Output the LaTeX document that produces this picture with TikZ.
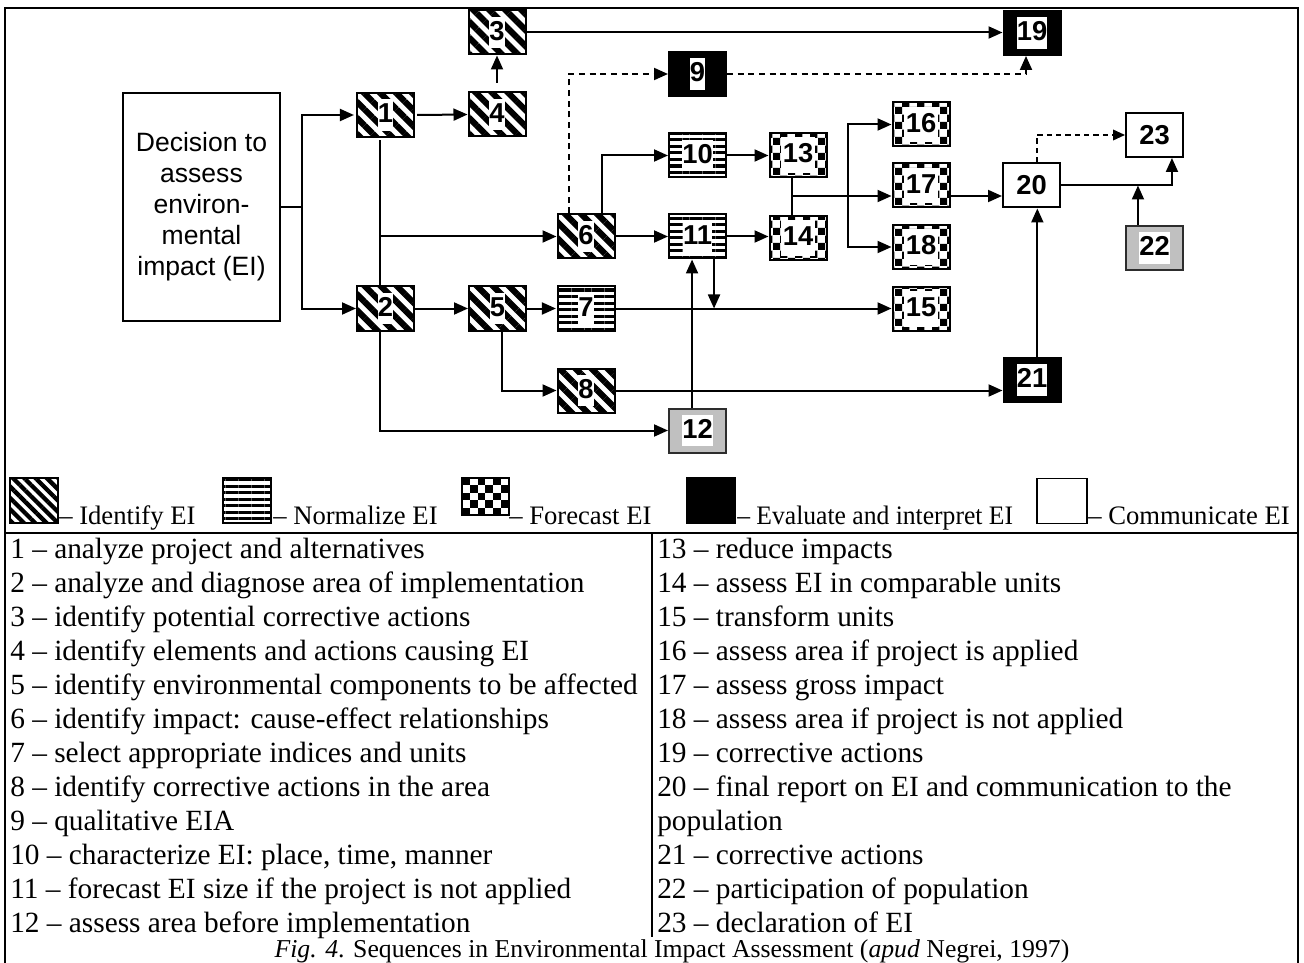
\documentclass[tikz,border=0pt]{standalone}
\usepackage{fontspec}
\setmainfont{Liberation Serif}
\setsansfont{Liberation Sans}
\usetikzlibrary{arrows.meta,patterns,patterns.meta}
\definecolor{boxgrey}{RGB}{192,192,192}
\definecolor{boxedge}{RGB}{45,45,45}
\newcommand\numlab[1]{{\setlength\fboxsep{0pt}\colorbox{white}{\rule[-6pt]{0pt}{23.5pt}#1}}}
\newcommand\numlabf[1]{{\setlength\fboxsep{1.5pt}\colorbox{white}{\rule[-6pt]{0pt}{23.5pt}#1}}}
\begin{document}
\begin{tikzpicture}[x=0.75pt,y=-0.75pt,
  box/.style={draw=black, line width=1.5pt, minimum width=42.75pt, minimum height=33pt, inner sep=0pt,
    font=\sffamily\bfseries\fontsize{20.5}{24}\selectfont},
  idbox/.style={box, preaction={fill=white}, pattern={Lines[angle=-45,distance=8.5pt,line width=4.6pt]}},
  normbox/.style={box, preaction={fill=white}, pattern={Lines[angle=0,distance=4.9pt,line width=2.4pt]}},
  forebox/.style={box, preaction={fill=white}, pattern=checkerboard},
  evalbox/.style={box, fill=black},
  combox/.style={box, fill=white},
  greybox/.style={box, fill=boxgrey, draw=boxedge},
  ln/.style={line width=1.5pt},
  arr/.style={line width=1.5pt, -{Triangle[length=10.5pt,width=9pt]}},
  dsh/.style={arr, dash pattern=on 4.5pt off 3.5pt},
  dsh2/.style={line width=1.2pt, dash pattern=on 4pt off 3pt, -{Triangle[length=9pt,width=8pt]}},
  tab/.style={anchor=base west, inner sep=0pt, font=\fontsize{22}{26}\selectfont},
  leg/.style={anchor=base west, inner sep=0pt, font=\fontsize{20}{24}\selectfont},
  swatch/.style={line width=1pt, minimum width=36pt, minimum height=33.75pt, inner sep=0pt}
]
\useasboundingbox (0,0) rectangle (1304,963);
\fill[white] (0,0) rectangle (1304,963);

% frame
\draw[line width=1.5pt] (5,963) -- (5,8) -- (1298,8) -- (1298,963);
\draw[line width=1.5pt] (5,533) -- (1298,533);
\draw[line width=1.2pt] (652,533) -- (652,937);

% decision box
\node[draw, line width=1.5pt, minimum width=117.75pt, minimum height=171pt, align=center,
  font=\sffamily\fontsize{19.9}{23.25}\selectfont] (dec) at (201.5,207)
  {Decision to\\assess\\environ-\\mental\\impact (EI)};

% nodes
\node[idbox] (n1) at (385.5,115) {\numlab{1}};
\node[idbox] (n2) at (385.5,308.5) {\numlab{2}};
\node[idbox] (n3) at (497,32.5) {\numlab{3}};
\node[idbox] (n4) at (497,114.5) {\numlab{4}};
\node[idbox] (n5) at (497.5,308.5) {\numlab{5}};
\node[idbox] (n6) at (586,236.5) {\numlab{6}};
\node[normbox] (n7) at (586,308.5) {\numlab{7}};
\node[idbox] (n8) at (586,390.5) {\numlab{8}};
\node[evalbox] (n9) at (697.5,74) {\numlab{9}};
\node[normbox] (n10) at (697.5,155.5) {\numlab{10}};
\node[normbox] (n11) at (697.5,236.5) {\numlab{11}};
\node[greybox] (n12) at (697.5,430.5) {\numlab{12}};
\node[forebox] (n13) at (798,155) {\numlabf{13}};
\node[forebox] (n14) at (798,238) {\numlabf{14}};
\node[forebox] (n15) at (921,309) {\numlabf{15}};
\node[forebox] (n16) at (921,124.5) {\numlabf{16}};
\node[forebox] (n17) at (921,185.5) {\numlabf{17}};
\node[forebox] (n18) at (921,247) {\numlabf{18}};
\node[evalbox] (n19) at (1032,33) {\numlab{19}};
\node[combox] (n20) at (1031.5,185.5) {20};
\node[evalbox] (n21) at (1032,380) {\numlab{21}};
\node[greybox] (n22) at (1154.5,248) {\numlab{22}};
\node[combox] (n23) at (1154.5,135) {23};

% connectors
\coordinate (jd) at (302,207);
\draw[ln] (dec.east) -- (jd);
\draw[arr] (jd) |- (n1.west);
\draw[arr] (jd) |- (n2.west);
\draw[arr] (n1.east) -- (n4.west);
\draw[arr, shorten <=6.5pt] (n4.north) -- (n3.south);
\draw[arr] (n3.east) -- (n3.east -| n19.west);
\draw[ln] ([xshift=-4.1pt]n1.south) -- ([xshift=-4.1pt]n2.north);
\coordinate (b6) at (380,236.5);
\draw[arr] (b6) -- (n6.west);
\draw[arr] ([xshift=-4.1pt]n2.south) |- (n12.west);
\draw[arr] (n2.east) -- (n5.west);
\draw[arr] (n5.east) -- (n7.west);
\draw[arr] ([xshift=3.4pt]n5.south) |- (n8.west);
\draw[arr] (n7.east) -- (n7.east -| n15.west);
\draw[arr] (n8.east) -- (n8.east -| n21.west);
\draw[arr] ([xshift=-4.1pt]n12.north) -- ([xshift=-4.1pt]n11.south);
\draw[arr] ([xshift=12.4pt]n11.south) -- ([xshift=12.4pt]n11.south |- n7.east);
\draw[arr] (n6.east) -- (n11.west);
\draw[arr] ([xshift=12pt]n6.north) |- (n10.west);
\draw[dsh] ([xshift=-12.75pt]n6.north) |- (n9.west);
\draw[dsh] (n9.east) -| ([xshift=-4.5pt]n19.south);
\draw[arr] (n10.east) -- (n10.east -| n13.west);
\draw[arr] (n11.east) -- (n11.east -| n14.west);
\draw[ln] ([xshift=-4.5pt]n13.south) -- ([xshift=-4.5pt]n14.north);
\coordinate (j) at (792,196);
\coordinate (k) at (848,196);
\draw[arr] (j) -- (j -| n17.west);
\draw[arr] (k) |- (n16.west);
\draw[arr] (k) |- (n18.west);
\draw[arr] (j -| n17.east) -- (j -| n20.west);
\draw[arr] (n20.east) -| ([xshift=13.1pt]n23.south);
\draw[arr] ([xshift=-12.4pt]n22.north) -- ([xshift=-12.4pt]n22.north |- n20.east);
\draw[dsh2] ([xshift=4.1pt]n20.north) |- (n23.west);
\draw[arr] ([xshift=4pt]n21.north) -- ([xshift=4pt]n21.north |- n20.south);

% legend
\node[swatch, draw, preaction={fill=white}, pattern={Lines[angle=-45,distance=6pt,line width=3.2pt]}] (s1) at (34,500.5) {};
\node[leg] (t1) at (59,524) {– Identify EI};
\node[swatch, draw, preaction={fill=white}, pattern={Lines[angle=0,distance=4.9pt,line width=2.3pt]}] (s2) at (247,500.5) {};
\node[leg] (t2) at (273,524) {– Normalize EI};
\node[swatch, draw, minimum width=35.25pt, minimum height=27.75pt] (s3) at (485.5,496.5) {};
\foreach \c in {0,...,5}{\foreach \r in {0,...,4}{
  \pgfmathtruncatemacro\pp{mod(\c+\r,2)}
  \ifnum\pp=0 \fill[black] ({462+\c*7.83},{478+\r*7.4}) rectangle ++(7.83,7.4);\fi}}
\draw[line width=1pt] (s3.north west) rectangle (s3.south east);
\node[leg] (t3) at (509,524) {– Forecast EI};
\node[swatch, draw, fill=black] (s4) at (711,500.5) {};
\node[leg, xscale=0.96] (t4) at (737,524) {– Evaluate and interpret EI};
\node[swatch, draw, fill=white, minimum width=37.5pt] (s5) at (1062,501) {};
\node[leg] (t5) at (1088,524) {– Communicate EI};

% table
\foreach \t [count=\i] in {
  {1 – analyze project and alternatives},
  {2 – analyze and diagnose area of implementation},
  {3 – identify potential corrective actions},
  {4 – identify elements and actions causing EI},
  {5 – identify environmental components to be affected},
  {6 – identify impact: cause-effect relationships},
  {7 – select appropriate indices and units},
  {8 – identify corrective actions in the area},
  {9 – qualitative EIA},
  {10 – characterize EI: place, time, manner},
  {11 – forecast EI size if the project is not applied},
  {12 – assess area before implementation}}
  \node[tab] (L\i) at (10,{558+(\i-1)*34}) {\t};
\foreach \t [count=\i] in {
  {13 – reduce impacts},
  {14 – assess EI in comparable units},
  {15 – transform units},
  {16 – assess area if project is applied},
  {17 – assess gross impact},
  {18 – assess area if project is not applied},
  {19 – corrective actions},
  {20 – final report on EI and communication to the},
  {population},
  {21 – corrective actions},
  {22 – participation of population},
  {23 – declaration of EI}}
  \node[tab] (R\i) at (657,{558+(\i-1)*34}) {\t};

\node[anchor=base, inner sep=0pt, font=\fontsize{19.3}{23}\selectfont] (cap) at (672,957.5)
  {\textit{Fig. 4}. Sequences in Environmental Impact Assessment (\textit{apud} Negrei, 1997)};
\end{tikzpicture}
\end{document}
